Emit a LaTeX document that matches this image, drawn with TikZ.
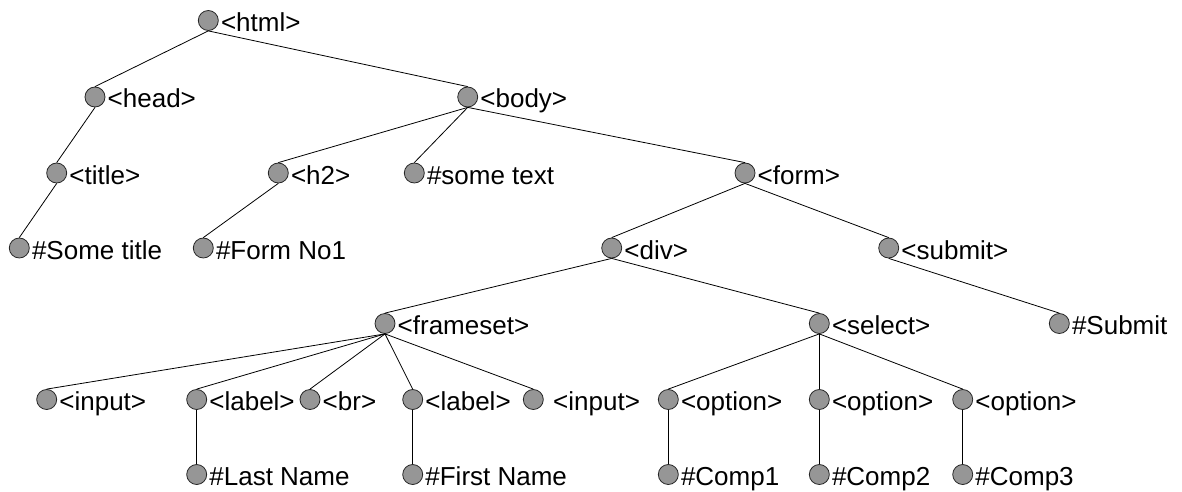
\documentclass[tikz,border=0pt]{standalone}
\usepackage{fontspec}
\setmainfont{Liberation Sans}
\definecolor{dotgray}{RGB}{150,150,150}
\newcommand\tnode[4]{%
  \node[dot] (#1) at (#2,#3) {};
  \node[txt] (#1-t) at ([xshift=12.5pt,yshift=-11pt]#1.center) {#4};}
\begin{document}
\begin{tikzpicture}[x=1pt,y=-1pt,
  dot/.style={circle, draw=black!85, line width=0.8pt, fill=dotgray, minimum size=20pt, inner sep=0pt},
  txt/.style={anchor=base west, inner sep=0pt, font=\fontsize{26}{30}\selectfont},
  edge/.style={draw=black, line width=0.8pt}]
\useasboundingbox (0,0) rectangle (1182,492);
% level 0
\tnode{html}{208.3}{20.5}{<html>}
% level 1
\tnode{head}{95}{97}{<head>}
\tnode{body}{467.7}{97}{<body>}
% level 2
\tnode{title}{56.7}{173}{<title>}
\tnode{h2}{278.3}{173}{<h2>}
\tnode{sometext}{414.3}{173}{\#some text}
\tnode{form}{745}{173}{<form>}
% level 3
\tnode{sometitle}{19.3}{248}{\#Some title}
\tnode{formno}{203.3}{248}{\#Form No1}
\tnode{div}{611.7}{248}{<div>}
\tnode{submit}{888.7}{248}{<submit>}
% level 4
\tnode{frameset}{385}{323.5}{<frameset>}
\tnode{select}{819.3}{323.5}{<select>}
\tnode{Submit}{1059.3}{323.5}{\#Submit}
% level 5
\tnode{inputa}{46.7}{399.5}{<input>}
\tnode{labela}{196.7}{399.5}{<label>}
\tnode{br}{310}{399.5}{<br>}
\tnode{labelb}{412.7}{399.5}{<label>}
\tnode{inputb}{533.3}{399.5}{\ <input>}
\tnode{optiona}{668.3}{399.5}{<option>}
\tnode{optionb}{819.3}{399.5}{<option>}
\tnode{optionc}{962.7}{399.5}{<option>}
% level 6
\tnode{lastname}{196.7}{474.5}{\#Last Name}
\tnode{firstname}{412.7}{474.5}{\#First Name}
\tnode{compa}{668.3}{474.5}{\#Comp1}
\tnode{compb}{819.3}{474.5}{\#Comp2}
\tnode{compc}{962.7}{474.5}{\#Comp3}
% edges
\foreach \p/\c in {html/head, html/body, head/title, title/sometitle,
  body/h2, body/sometext, body/form, h2/formno,
  form/div, form/submit, submit/Submit,
  div/frameset, div/select,
  frameset/inputa, frameset/labela, frameset/br, frameset/labelb, frameset/inputb,
  labela/lastname, labelb/firstname,
  select/optiona, select/optionb, select/optionc,
  optiona/compa, optionb/compb, optionc/compc}
  \draw[edge] (\p.south) -- (\c.north);
\end{tikzpicture}
\end{document}
